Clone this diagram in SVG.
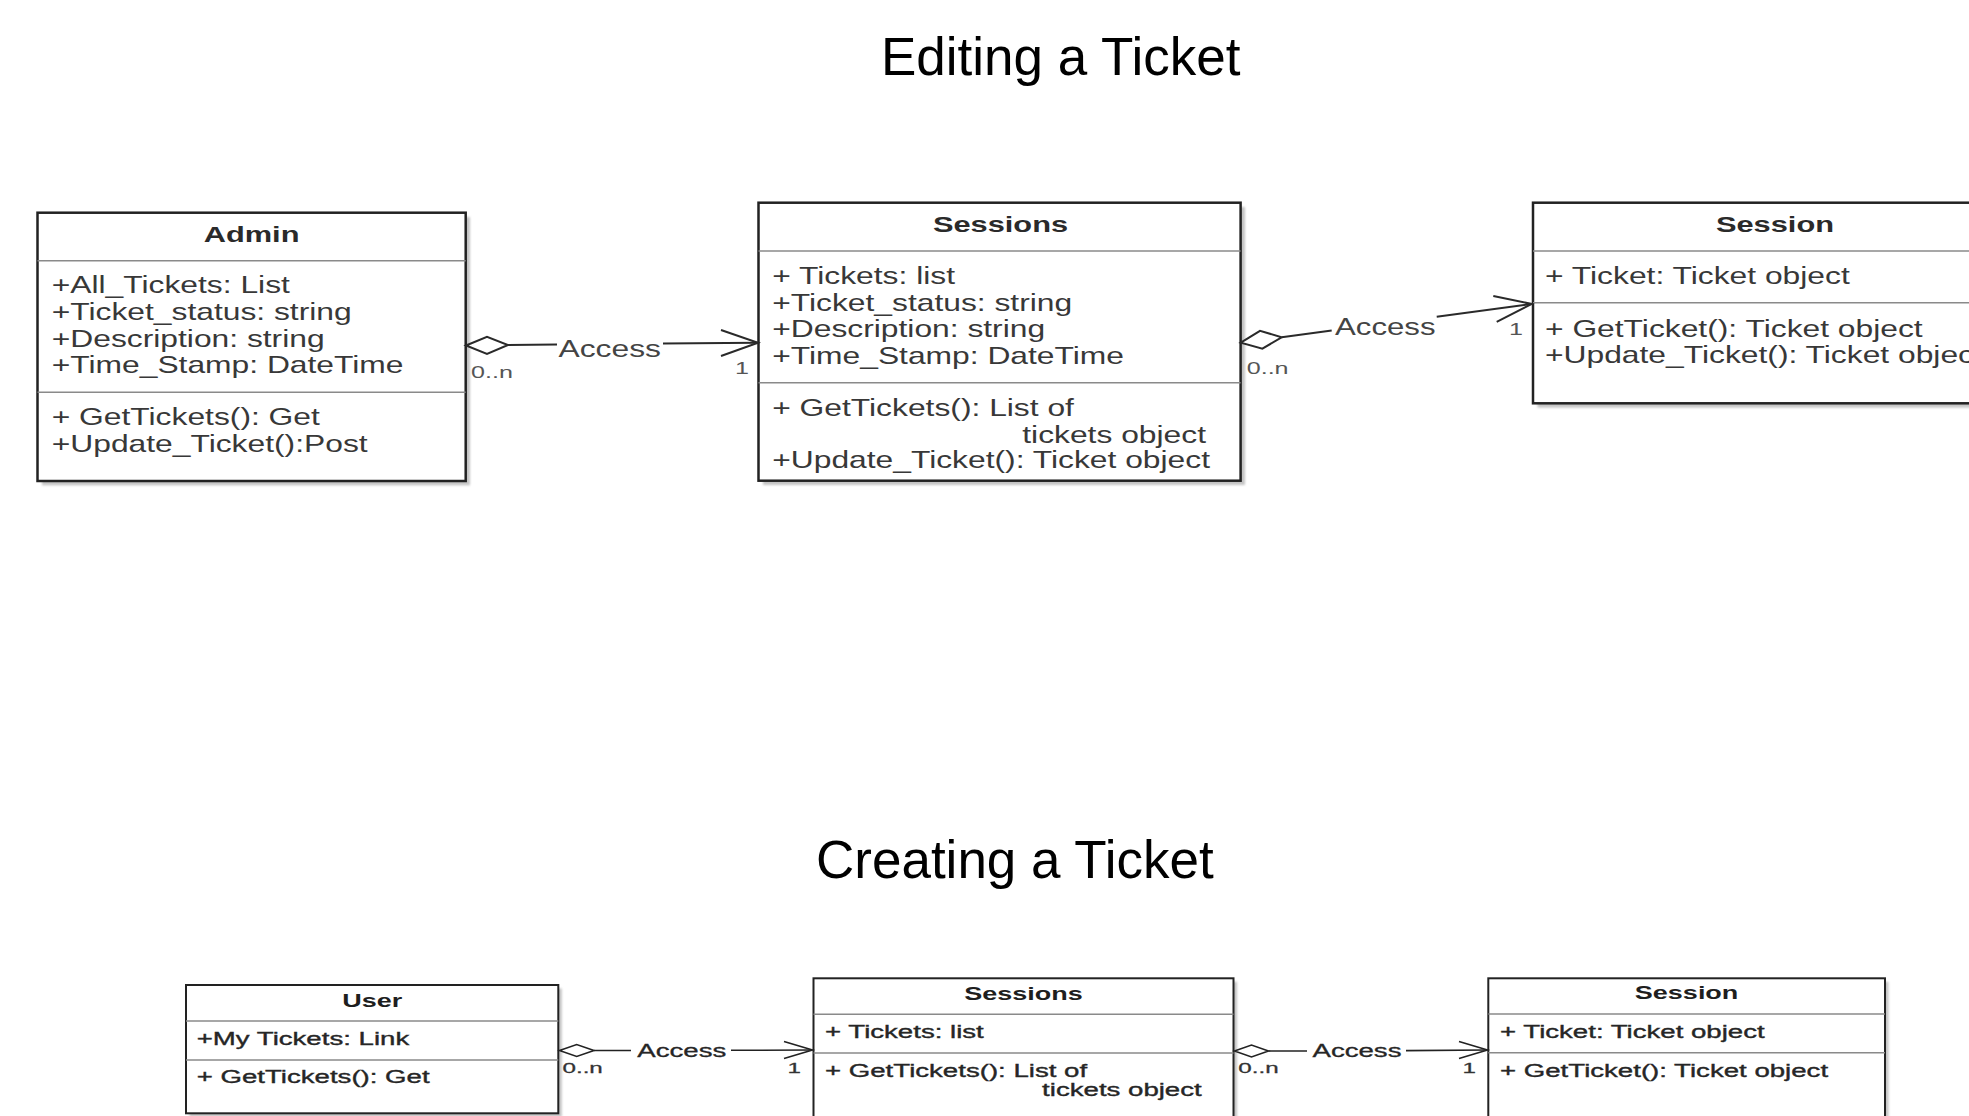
<svg xmlns="http://www.w3.org/2000/svg" width="1969" height="1116" viewBox="0 0 1969 1116">
<defs>
<filter id="blur" x="-5%" y="-5%" width="110%" height="110%"><feGaussianBlur stdDeviation="1.2"/></filter>
</defs>
<style>
text{font-family:"Liberation Sans",Arial,sans-serif}
.ttl{font-size:53px;fill:#000}
.shadow{fill:#c4c4c4;filter:url(#blur)}
.box{fill:#fff;stroke:#222;stroke-width:2.5}
.box2{fill:#fff;stroke:#222;stroke-width:2}
.sep{stroke:#8a8a8a;stroke-width:1.6}
.hd{font-size:22px;font-weight:bold;fill:#2a2a2a;text-anchor:middle}
.at{font-size:24px;fill:#383838}
.hd2{font-size:18.5px;font-weight:bold;fill:#1e1e1e;text-anchor:middle}
.at2{font-size:17.7px;fill:#262626;stroke:#262626;stroke-width:0.35}
.end{text-anchor:end}
.ln{fill:none;stroke:#2a2a2a;stroke-width:2}
.ln2{fill:none;stroke:#222;stroke-width:1.6}
.dia{fill:#fff;stroke:#2a2a2a;stroke-width:2}
.dia2{fill:#fff;stroke:#222;stroke-width:1.6}
.lbl{font-size:24px;fill:#444}
.mul{font-size:16px;fill:#555}
.lbl2{font-size:17.7px;fill:#262626;stroke:#262626;stroke-width:0.3}
.mul2{font-size:15.5px;fill:#333;stroke:#333;stroke-width:0.3}
</style>
<rect width="1969" height="1116" fill="#fff"/>

<text class="ttl" x="881" y="75">Editing a Ticket</text>
<text class="ttl" x="816" y="878">Creating a Ticket</text>

<g id="admin">
<rect class="shadow" x="42" y="217" width="428" height="268.3"/>
<rect class="box" x="37.5" y="212.7" width="428.2" height="268.3"/>
<line class="sep" x1="37.5" y1="260.7" x2="465.7" y2="260.7"/>
<line class="sep" x1="37.5" y1="392.3" x2="465.7" y2="392.3"/>
<text class="hd" transform="translate(251.6 241.7) scale(1.4 1)">Admin</text>
<text class="at" transform="translate(51.7 293.3) scale(1.325 1)">+All_Tickets: List</text>
<text class="at" transform="translate(51.7 320) scale(1.325 1)">+Ticket_status: string</text>
<text class="at" transform="translate(51.7 346.7) scale(1.325 1)">+Description: string</text>
<text class="at" transform="translate(51.7 373.3) scale(1.325 1)">+Time_Stamp: DateTime</text>
<text class="at" transform="translate(51.7 425) scale(1.325 1)">+ GetTickets(): Get</text>
<text class="at" transform="translate(51.7 451.7) scale(1.325 1)">+Update_Ticket():Post</text>
</g>

<g id="sessions-edit">
<rect class="shadow" x="763" y="207" width="482" height="278"/>
<rect class="box" x="758.5" y="202.7" width="482.1" height="278"/>
<line class="sep" x1="758.5" y1="251" x2="1240.6" y2="251"/>
<line class="sep" x1="758.5" y1="382.7" x2="1240.6" y2="382.7"/>
<text class="hd" transform="translate(1000.5 231.7) scale(1.4 1)">Sessions</text>
<text class="at" transform="translate(772.2 284) scale(1.325 1)">+ Tickets: list</text>
<text class="at" transform="translate(772.2 310.7) scale(1.325 1)">+Ticket_status: string</text>
<text class="at" transform="translate(772.2 337.3) scale(1.325 1)">+Description: string</text>
<text class="at" transform="translate(772.2 364) scale(1.325 1)">+Time_Stamp: DateTime</text>
<text class="at" transform="translate(772.2 415.7) scale(1.325 1)">+ GetTickets(): List of</text>
<text class="at end" transform="translate(1206 442.7) scale(1.325 1)">tickets object</text>
<text class="at" transform="translate(772.2 468.3) scale(1.325 1)">+Update_Ticket(): Ticket object</text>
</g>

<g id="session-edit">
<rect class="shadow" x="1537.5" y="207" width="483" height="200.6"/>
<rect class="box" x="1533" y="202.7" width="483" height="200.6"/>
<line class="sep" x1="1533" y1="251" x2="2016" y2="251"/>
<line class="sep" x1="1533" y1="302.7" x2="2016" y2="302.7"/>
<text class="hd" transform="translate(1775 231.7) scale(1.4 1)">Session</text>
<text class="at" transform="translate(1545 284) scale(1.325 1)">+ Ticket: Ticket object</text>
<text class="at" transform="translate(1545 336.7) scale(1.325 1)">+ GetTicket(): Ticket object</text>
<text class="at" transform="translate(1545 362.7) scale(1.325 1)">+Update_Ticket(): Ticket object</text>
</g>

<g id="user">
<rect class="shadow" x="189.5" y="988.5" width="372.3" height="128.3"/>
<rect class="box2" x="186" y="985" width="372.3" height="128.3"/>
<line class="sep" x1="186" y1="1021" x2="558.3" y2="1021"/>
<line class="sep" x1="186" y1="1060" x2="558.3" y2="1060"/>
<text class="hd2" transform="translate(372.2 1006.7) scale(1.46 1)">User</text>
<text class="at2" transform="translate(196.7 1045) scale(1.56 1)">+My Tickets: Link</text>
<text class="at2" transform="translate(196.7 1083.3) scale(1.56 1)">+ GetTickets(): Get</text>
</g>

<g id="sessions-create">
<rect class="shadow" x="817" y="981.8" width="420" height="160"/>
<rect class="box2" x="813.5" y="978.3" width="420" height="160"/>
<line class="sep" x1="813.5" y1="1014.3" x2="1233.5" y2="1014.3"/>
<line class="sep" x1="813.5" y1="1053" x2="1233.5" y2="1053"/>
<text class="hd2" transform="translate(1023.5 1000) scale(1.46 1)">Sessions</text>
<text class="at2" transform="translate(825 1038.3) scale(1.56 1)">+ Tickets: list</text>
<text class="at2" transform="translate(825 1076.7) scale(1.56 1)">+ GetTickets(): List of</text>
<text class="at2 end" transform="translate(1201.7 1095.7) scale(1.56 1)">tickets object</text>
</g>

<g id="session-create">
<rect class="shadow" x="1491.8" y="981.8" width="396.7" height="160"/>
<rect class="box2" x="1488.3" y="978.3" width="396.7" height="160"/>
<line class="sep" x1="1488.3" y1="1014" x2="1885" y2="1014"/>
<line class="sep" x1="1488.3" y1="1052.7" x2="1885" y2="1052.7"/>
<text class="hd2" transform="translate(1686.6 999.3) scale(1.46 1)">Session</text>
<text class="at2" transform="translate(1500 1038.3) scale(1.56 1)">+ Ticket: Ticket object</text>
<text class="at2" transform="translate(1500 1076.7) scale(1.56 1)">+ GetTicket(): Ticket object</text>
</g>

<g id="connectors">
<!-- Admin -> Sessions (edit) -->
<polyline class="ln" points="508,345 557,344.5"/>
<polyline class="ln" points="663,343.4 758,342.7"/>
<polygon class="dia" points="466,345.5 487,336.8 508,345 487,354"/>
<polyline class="ln" points="721,330 758,342.7 721,356"/>
<text class="lbl" transform="translate(558.5 356.7) scale(1.325 1)">Access</text>
<text class="mul" transform="translate(471 378) scale(1.57 1)">0..n</text>
<text class="mul end" transform="translate(749 374) scale(1.57 1)">1</text>

<!-- Sessions -> Session (edit) -->
<polyline class="ln" points="1281.7,337.3 1331.7,330.6"/>
<polyline class="ln" points="1436.7,316.7 1531.7,304"/>
<polygon class="dia" points="1240.8,342.7 1260,330.8 1281.7,337.3 1262.4,348.6"/>
<polyline class="ln" points="1493.3,296 1531.7,304 1496.7,321.8"/>
<text class="lbl" transform="translate(1335 335) scale(1.3 1)">Access</text>
<text class="mul" transform="translate(1246.7 374) scale(1.57 1)">0..n</text>
<text class="mul end" transform="translate(1523 335) scale(1.57 1)">1</text>

<!-- User -> Sessions (create) -->
<polyline class="ln2" points="594,1050.5 631,1050.5"/>
<polyline class="ln2" points="731,1050.3 812.5,1050"/>
<polygon class="dia2" points="559.5,1050.5 576.7,1044.5 594,1050.5 576.7,1056.5"/>
<polyline class="ln2" points="784,1041.5 812.5,1050 784,1058.5"/>
<text class="lbl2" transform="translate(637.3 1056.7) scale(1.56 1)">Access</text>
<text class="mul2" transform="translate(562.5 1073.3) scale(1.56 1)">0..n</text>
<text class="mul2 end" transform="translate(801 1073.3) scale(1.56 1)">1</text>

<!-- Sessions -> Session (create) -->
<polyline class="ln2" points="1268.5,1051 1307,1051"/>
<polyline class="ln2" points="1406,1050.6 1487.5,1050"/>
<polygon class="dia2" points="1234.5,1051 1251.5,1045 1268.5,1051 1251.5,1057"/>
<polyline class="ln2" points="1459,1041.5 1487.5,1050 1459,1058.5"/>
<text class="lbl2" transform="translate(1312.5 1056.7) scale(1.56 1)">Access</text>
<text class="mul2" transform="translate(1238.3 1073.3) scale(1.56 1)">0..n</text>
<text class="mul2 end" transform="translate(1476 1073.3) scale(1.56 1)">1</text>
</g>
</svg>
